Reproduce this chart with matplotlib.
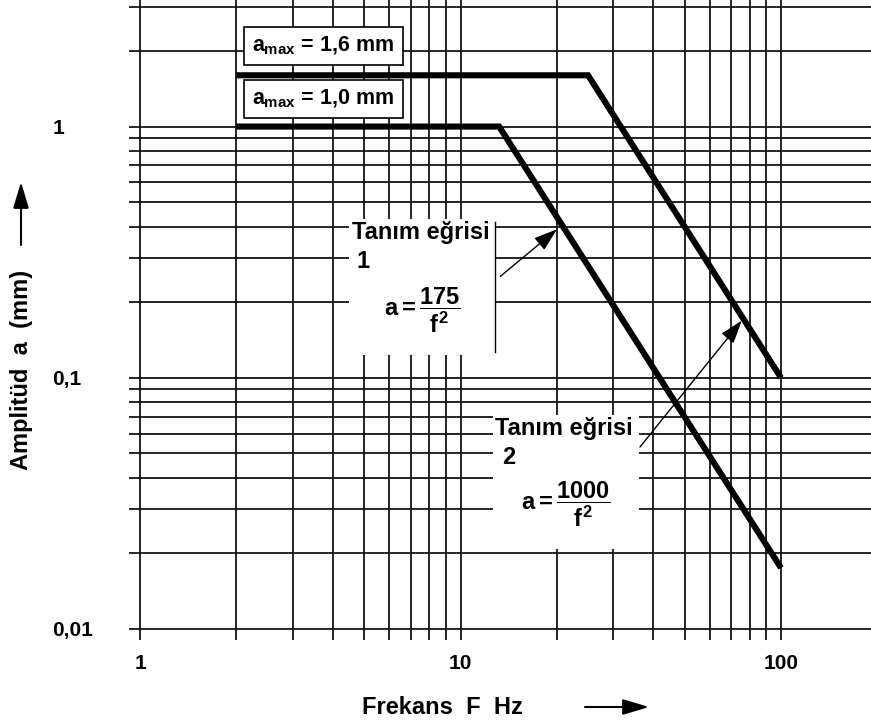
"""Titreşim tanım eğrileri: frekansa karşı genlik (log-log), taranmış şekil kopyası."""

import matplotlib

matplotlib.use("Agg")
import matplotlib.pyplot as plt
from matplotlib.patches import Rectangle

W, H = 871, 724  # çıktı boyutu (px), dpi=100

# ---------------------------------------------------------------------------
# Veri
# ---------------------------------------------------------------------------
# Tanım eğrisi 1: a_max = 1,0 mm, sonra a = 175 / f^2
curve1_freq = [2.0, 13.2, 100.0]
curve1_amp = [1.0, 1.0, 0.0175]
# Tanım eğrisi 2: a_max = 1,6 mm, sonra a = 1000 / f^2
curve2_freq = [2.0, 25.0, 100.0]
curve2_amp = [1.6, 1.6, 0.1]

x_major = [1, 10, 100]
x_major_labels = ["1", "10", "100"]
x_minor = [2, 3, 4, 5, 6, 7, 8, 9, 20, 30, 40, 50, 60, 70, 80, 90]

y_major = [0.01, 0.1, 1]
y_major_labels = ["0,01", "0,1", "1"]
y_minor = [0.02, 0.03, 0.04, 0.05, 0.06, 0.07, 0.08, 0.09,
           0.2, 0.3, 0.4, 0.5, 0.6, 0.7, 0.8, 0.9, 2, 3]

x_limits = (0.924, 190.9)
y_limits = (0.00904, 3.19)

plt.rcParams["font.family"] = ["Liberation Sans", "DejaVu Sans"]
plt.rcParams["font.weight"] = "bold"
plt.rcParams["mathtext.fontset"] = "custom"
for key in ("rm", "it", "bf", "sf"):
    plt.rcParams[f"mathtext.{key}"] = "Liberation Sans:bold"

GRID_COLOR = "#151515"
FS_BIG = 17
FS_TICK = 15


def fpx(x, y):
    """Piksel (sol-üst orijin) -> figür kesri."""
    return x / W, 1 - y / H


def white_box(ax, fig, x0, y0, x1, y1, edge=None):
    """Izgarayı örten beyaz dikdörtgen (piksel koordinatlarında)."""
    rect = Rectangle(
        (x0 / W, 1 - y1 / H), (x1 - x0) / W, (y1 - y0) / H,
        transform=fig.transFigure,
        facecolor="white",
        edgecolor=edge if edge else "none",
        linewidth=1.2,
        zorder=3,
    )
    ax.add_patch(rect)


fig = plt.figure(figsize=(W / 100, H / 100), dpi=100)
ax = fig.add_axes([129 / W, (H - 640) / H, (W - 129) / W, 640 / H])
ax.set_xscale("log")
ax.set_yscale("log")
ax.set_xlim(*x_limits)
ax.set_ylim(*y_limits)

ax.set_xticks(x_major)
ax.set_xticklabels(x_major_labels)
ax.set_xticks(x_minor, minor=True)
ax.set_xticklabels([], minor=True)
ax.set_yticks(y_major)
ax.set_yticklabels(y_major_labels)
ax.set_yticks(y_minor, minor=True)
ax.set_yticklabels([], minor=True)

ax.tick_params(which="both", length=0)
ax.tick_params(axis="x", pad=10, labelsize=FS_TICK)
ax.tick_params(axis="y", pad=55, labelsize=FS_TICK)
for lbl in ax.get_yticklabels():
    lbl.set_horizontalalignment("left")
for side in ax.spines.values():
    side.set_visible(False)

ax.set_axisbelow(True)
ax.grid(which="both", color=GRID_COLOR, linewidth=1.3)

# Eğriler
ax.plot(curve1_freq, curve1_amp, color="black", lw=4.4,
        solid_joinstyle="miter", solid_capstyle="butt", zorder=4)
ax.plot(curve2_freq, curve2_amp, color="black", lw=4.4,
        solid_joinstyle="miter", solid_capstyle="butt", zorder=4)

# a_max etiket kutuları
white_box(ax, fig, 244, 27, 403, 65, edge="black")
white_box(ax, fig, 244, 80, 403, 118, edge="black")
fig.text(*fpx(323, 46), r"$a_{max}$ = 1,6 mm", ha="center", va="center",
         fontsize=15.5, fontweight="bold", zorder=6)
fig.text(*fpx(323, 99), r"$a_{max}$ = 1,0 mm", ha="center", va="center",
         fontsize=15.5, fontweight="bold", zorder=6)

# Tanım eğrisi 1 açıklaması
white_box(ax, fig, 349, 219, 495, 355)
ax.plot([495 / W, 495 / W], [1 - 222 / H, 1 - 352 / H], color="black",
        lw=1.0, transform=fig.transFigure, zorder=3.5)
fig.text(*fpx(352, 233), "Tanım eğrisi", ha="left", va="center",
         fontsize=FS_BIG, fontweight="bold", zorder=6)
fig.text(*fpx(357, 262), "1", ha="left", va="center",
         fontsize=FS_BIG, fontweight="bold", zorder=6)
fig.text(*fpx(422, 310), r"$a = \dfrac{175}{f^2}$", ha="center", va="center",
         fontsize=FS_BIG, zorder=6)

# Tanım eğrisi 2 açıklaması
white_box(ax, fig, 493, 415, 639, 549)
fig.text(*fpx(495, 428), "Tanım eğrisi", ha="left", va="center",
         fontsize=FS_BIG, fontweight="bold", zorder=6)
fig.text(*fpx(502, 457), "2", ha="left", va="center",
         fontsize=FS_BIG, fontweight="bold", zorder=6)
fig.text(*fpx(566, 504), r"$a = \dfrac{1000}{f^2}$", ha="center", va="center",
         fontsize=FS_BIG, zorder=6)

# Eğrilere oklar
arrow_kw = dict(arrowstyle="-|>,head_length=0.9,head_width=0.3",
                mutation_scale=16, lw=1.0, color="black",
                shrinkA=0, shrinkB=0)
ax.annotate("", xy=(20.0, 0.39), xytext=(13.3, 0.253),
            arrowprops=arrow_kw, zorder=5)
ax.annotate("", xy=(75.5, 0.169), xytext=(36.3, 0.053),
            arrowprops=arrow_kw, zorder=5)

# Eksen başlıkları ve okları
fig.text(*fpx(442, 707), "Frekans  F  Hz", ha="center", va="center",
         fontsize=FS_BIG, fontweight="bold")
fig.text(*fpx(22, 370), "Amplitüd  a  (mm)", ha="center", va="center",
         rotation=90, fontsize=FS_BIG, fontweight="bold")
axis_arrow = dict(arrowstyle="-|>,head_length=1.0,head_width=0.3",
                  mutation_scale=16, lw=1.5, color="black",
                  shrinkA=0, shrinkB=0)
ax.annotate("", xy=(649, H - 707), xytext=(585, H - 707),
            xycoords="figure pixels", textcoords="figure pixels",
            arrowprops=axis_arrow)
ax.annotate("", xy=(21, H - 182), xytext=(21, H - 245),
            xycoords="figure pixels", textcoords="figure pixels",
            arrowprops=axis_arrow)

fig.savefig("out.png", dpi=100)
